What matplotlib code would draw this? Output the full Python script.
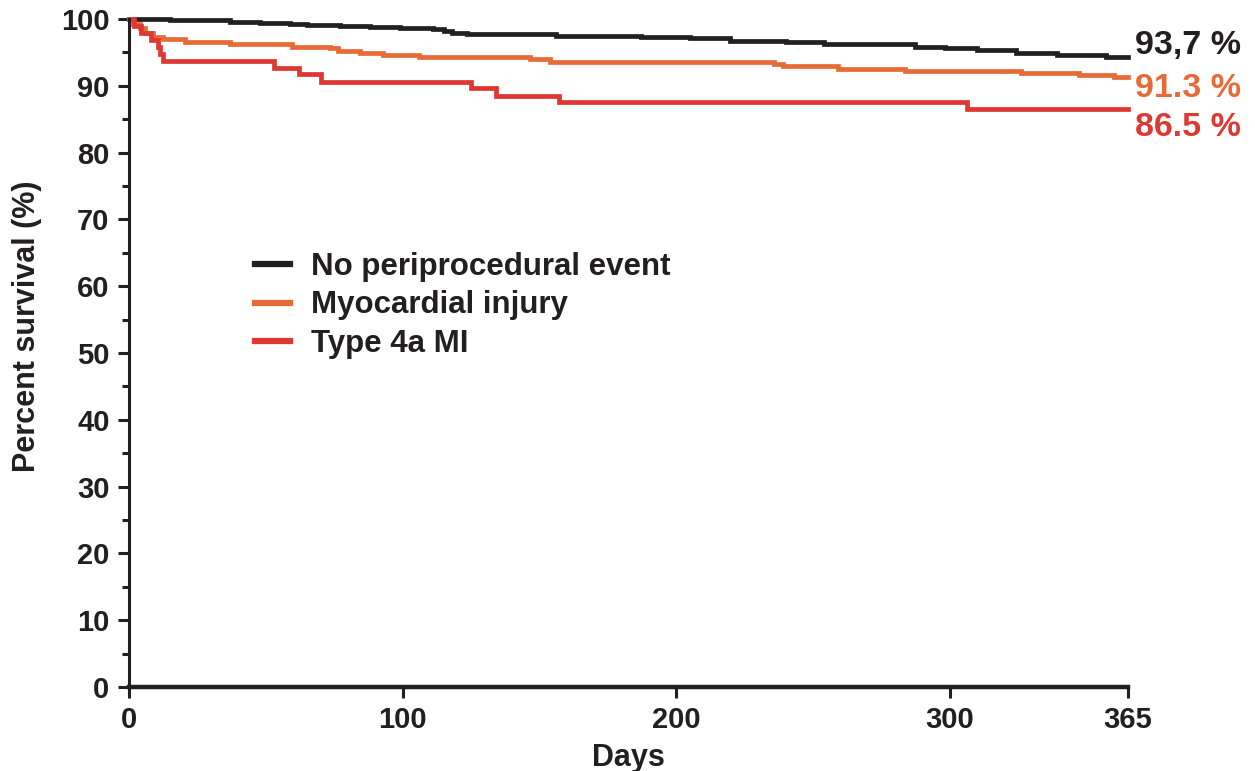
import matplotlib
matplotlib.use('Agg')
import matplotlib.pyplot as plt
from matplotlib.ticker import MultipleLocator

plt.rcParams['font.family'] = ['Liberation Sans', 'DejaVu Sans']
plt.rcParams['font.weight'] = 'bold'

# Kaplan-Meier step curves (day, percent survival)
none_days = [0, 15, 27, 37, 48, 59, 65, 77, 88, 99, 111, 115, 118, 123.5, 156, 187, 205,
             219.5, 240, 254, 287, 298, 310, 324, 339, 357, 365]
none_pct = [100, 99.9, 99.8, 99.6, 99.45, 99.3, 99.1, 99.0, 98.85, 98.7, 98.5, 98.2, 97.95,
            97.7, 97.5, 97.35, 97.1, 96.75, 96.5, 96.2, 95.8, 95.6, 95.3, 94.9, 94.6, 94.3, 94.3]

injury_days = [0, 1, 4, 5.8, 8.8, 12.4, 20.5, 37, 59.6, 73.4, 76.4, 84.4, 92.8, 106, 146.5,
               153.8, 235.7, 239, 259, 283.5, 326, 347, 360, 365]
injury_pct = [100, 99.25, 98.6, 97.9, 97.35, 97.0, 96.6, 96.26, 95.85, 95.6, 95.25, 94.96,
              94.6, 94.27, 93.97, 93.6, 93.26, 92.96, 92.56, 92.26, 91.96, 91.6, 91.3, 91.3]

mi_days = [0, 2, 4.5, 8, 10.5, 11.5, 12.5, 53, 62, 70, 125, 134, 157, 306, 365]
mi_pct = [100, 98.96, 97.9, 96.9, 95.8, 94.8, 93.75, 92.7, 91.7, 90.6, 89.6, 88.5, 87.5,
          86.5, 86.5]

labels = ['No periprocedural event', 'Myocardial injury', 'Type 4a MI']
end_labels = ['93,7 %', '91.3 %', '86.5 %']
colors = ['#231f20', '#e66b36', '#de3832']

fig = plt.figure(figsize=(12.55, 7.71), dpi=100)
ax = fig.add_axes([0.1028, 0.109, 0.796, 0.8664])

series = [(none_days, none_pct), (injury_days, injury_pct), (mi_days, mi_pct)]
for (d, p), lab, c in zip(series, labels, colors):
    ax.step(d, p, where='post', color=c, lw=3.4, label=lab, clip_on=False,
            solid_joinstyle='miter')

ax.set_xlim(0, 365)
ax.set_ylim(0, 100)
ax.set_xticks([0, 100, 200, 300, 365])
ax.yaxis.set_major_locator(MultipleLocator(10))
ax.yaxis.set_minor_locator(MultipleLocator(5))

for s in ['top', 'right']:
    ax.spines[s].set_visible(False)
ax.spines['left'].set_linewidth(2.2)
ax.spines['bottom'].set_linewidth(3.2)
ax.spines['left'].set_color('#231f20')
ax.spines['bottom'].set_color('#231f20')

ax.tick_params(axis='both', which='major', length=8, width=2.2, labelsize=21,
               colors='#231f20', pad=6)
ax.tick_params(axis='y', which='minor', length=5, width=2.2, colors='#231f20')

ax.set_xlabel('Days', fontsize=22, fontweight='bold', color='#231f20', labelpad=6)
ax.set_ylabel('Percent survival (%)', fontsize=22, fontweight='bold', color='#231f20')
ax.yaxis.set_label_coords(-0.087, 0.54)

# end-of-curve percentages
end_y = [96.0, 89.6, 83.8]
for txt, y, c in zip(end_labels, end_y, colors):
    ax.text(367.5, y, txt, fontsize=24.5, fontweight='bold', color=c, va='center',
            ha='left', clip_on=False)

leg = ax.legend(loc='upper left', bbox_to_anchor=(0.11, 0.675), frameon=False,
                fontsize=22.5, handlelength=1.15, handletextpad=0.65, labelspacing=0.28,
                borderpad=0)
for h in leg.get_lines():
    h.set_linewidth(4.5)
for t in leg.get_texts():
    t.set_color('#231f20')

fig.savefig('out.png', dpi=100)
